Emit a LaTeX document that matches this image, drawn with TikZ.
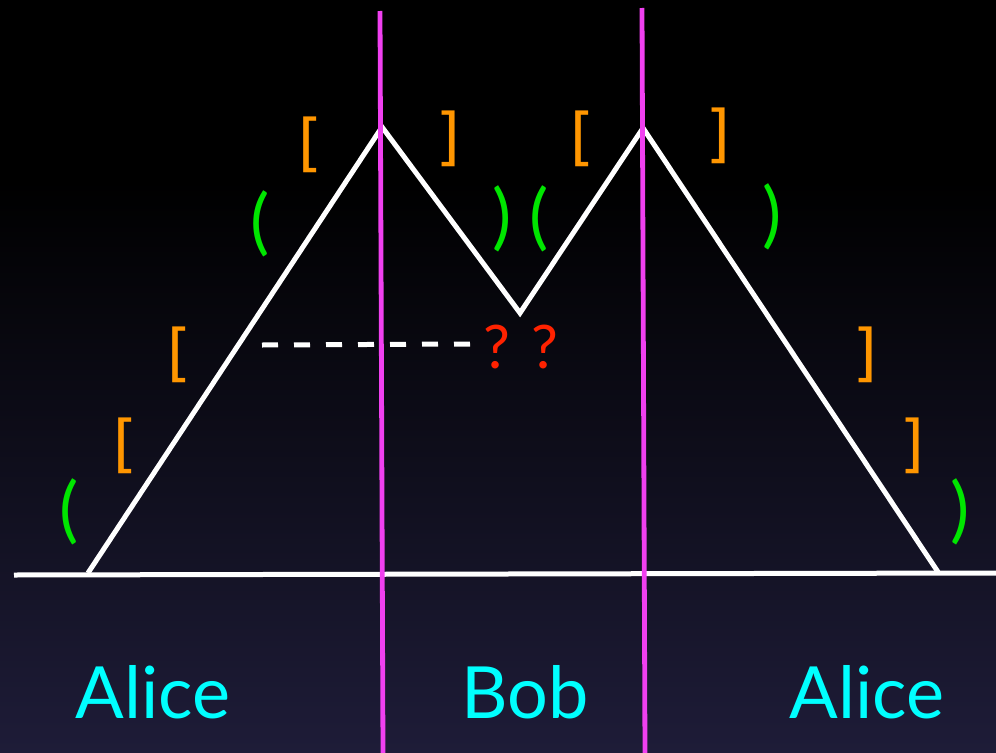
\documentclass[tikz,border=0pt]{standalone}
\usepackage{fontspec}
\setmainfont{Lato}
\newfontfamily\brkfont{DejaVu Sans Mono}
\usepackage{tikz}
\definecolor{bgbot}{RGB}{30,28,56}
\definecolor{cutline}{RGB}{240,64,240}
\definecolor{brk}{RGB}{255,150,0}
\definecolor{par}{RGB}{0,230,0}
\definecolor{qm}{RGB}{255,34,0}
\definecolor{who}{RGB}{0,255,255}

\begin{document}
\begin{tikzpicture}[x=0.75pt,y=-0.75pt,sq/.style={text=brk,font=\brkfont\fontsize{47}{47}\selectfont,inner sep=0pt},rd/.style={text=par,font=\fontsize{54}{54}\selectfont,inner sep=0pt},qq/.style={text=qm,font=\fontsize{45}{45}\selectfont,inner sep=0pt,anchor=base},party/.style={text=who,font=\fontsize{54}{54}\selectfont,inner sep=0pt,anchor=base},ridge/.style={white,line width=3.75pt,line join=miter},cut/.style={cutline,line width=3.6pt}]
\useasboundingbox (0,0) rectangle (996,753);
\fill[black] (0,0) rectangle (996,181);
\shade[top color=black,bottom color=bgbot] (0,180) rectangle (996,753);
% ground and mountains
\coordinate (gl) at (14,575);\coordinate (gr) at (996,573);
\coordinate (foot1) at (88,573);\coordinate (top1) at (382,127);\coordinate (dip) at (520,313);\coordinate (top2) at (643,128);\coordinate (foot2) at (938,572);
\draw[ridge] (gl)--(gr);
\draw[ridge] (foot1)--(top1)--(dip)--(top2)--(foot2);
\coordinate (dl) at (262,345);\coordinate (dr) at (470,344);
\draw[white,line width=3.75pt,dash pattern=on 12pt off 12pt] (dl)--(dr);
% cuts
\coordinate (c1t) at (380,11);\coordinate (c1b) at (383,753);\coordinate (c2t) at (642,8);\coordinate (c2b) at (645,753);
\draw[cut] (c1t)--(c1b);\draw[cut] (c2t)--(c2b);
% brackets
\node[sq] (b1) at (308,145) {[};\node[sq] (b2) at (450,139) {]};
\node[sq] (b3) at (580,139) {[};\node[sq] (b4) at (720,136) {]};
\node[sq] (b5) at (177,355) {[};\node[sq] (b6) at (123,446) {[};
\node[sq] (b7) at (867,355) {]};\node[sq] (b8) at (914,446) {]};
\node[rd] (p1) at (260,224) {(};\node[rd] (p2) at (502,219) {)};
\node[rd] (p3) at (539,219) {(};\node[rd] (p4) at (772,217) {)};
\node[rd] (p5) at (69,512) {(};\node[rd] (p6) at (960,512) {)};
\node[qq] (q1) at (497,368) {?};\node[qq] (q2) at (545,368) {?};
% parties
\node[party] (alice1) at (153,718) {Alice};
\node[party] (bob) at (525,718) {Bob};
\node[party] (alice2) at (867,718) {Alice};
\end{tikzpicture}
\end{document}
